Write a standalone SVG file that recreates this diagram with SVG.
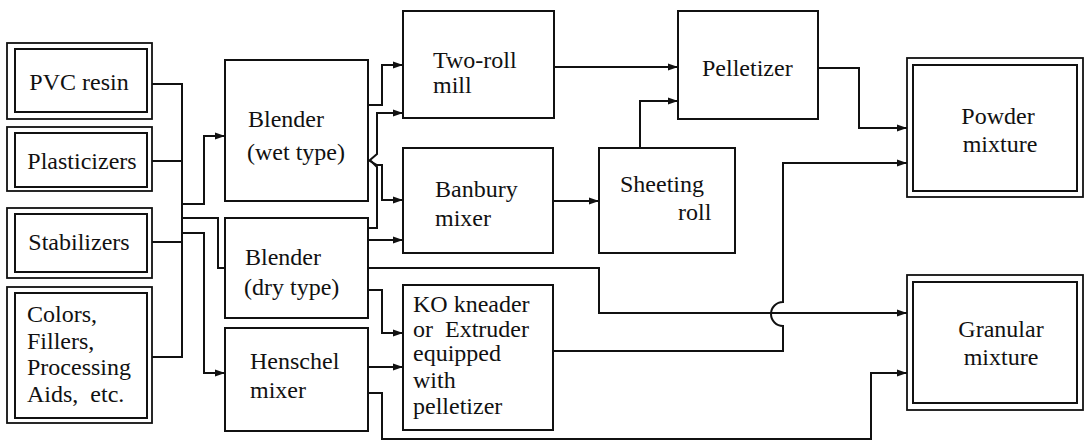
<svg xmlns="http://www.w3.org/2000/svg" width="1087" height="442" viewBox="0 0 1087 442">
<defs>
<marker id="ar" markerUnits="userSpaceOnUse" markerWidth="10" markerHeight="8" refX="10" refY="4" orient="auto">
<path d="M0,0.5 L10,4 L0,7.5 z" fill="#111"/>
</marker>
</defs>
<rect width="1087" height="442" fill="#fff"/>
<g id="nodes" font-family="Liberation Serif" font-size="24" fill="none" stroke="#111" stroke-width="2">
<g id="pvc"><rect stroke-width="1.8" x="7" y="43" width="145" height="76"/><rect x="15" y="49" width="132" height="63"/><text fill="#111" stroke="none" text-anchor="middle" x="79" y="90">PVC resin</text></g>
<g id="plasticizers"><rect stroke-width="1.8" x="7" y="127" width="145" height="64"/><rect x="15" y="133" width="132" height="54"/><text fill="#111" stroke="none" text-anchor="middle" x="82" y="169">Plasticizers</text></g>
<g id="stabilizers"><rect stroke-width="1.8" x="7" y="208" width="145" height="70"/><rect x="15" y="214" width="132" height="58"/><text fill="#111" stroke="none" text-anchor="middle" x="79" y="250">Stabilizers</text></g>
<g id="colors"><rect stroke-width="1.8" x="7" y="287" width="145" height="136"/><rect x="15" y="293" width="132" height="125"/>
<g fill="#111" stroke="none"><text x="27" y="322">Colors,</text><text x="27" y="349">Fillers,</text><text x="27" y="375">Processing</text><text x="27" y="402" xml:space="preserve">Aids,  etc.</text></g></g>
<g id="blender-wet"><rect x="225" y="60" width="143" height="141"/><g fill="#111" stroke="none"><text x="248" y="127">Blender</text><text x="247" y="160">(wet type)</text></g></g>
<g id="blender-dry"><rect x="225" y="218" width="143" height="100"/><g fill="#111" stroke="none"><text x="245" y="265">Blender</text><text x="244" y="295">(dry type)</text></g></g>
<g id="henschel"><rect x="225" y="328" width="143" height="103"/><g fill="#111" stroke="none"><text x="250" y="369">Henschel</text><text x="250" y="398">mixer</text></g></g>
<g id="two-roll"><rect x="403" y="11" width="151" height="107"/><g fill="#111" stroke="none"><text x="433" y="68">Two-roll</text><text x="433" y="93">mill</text></g></g>
<g id="banbury"><rect x="403" y="148" width="150" height="105"/><g fill="#111" stroke="none"><text x="435" y="197">Banbury</text><text x="435" y="226">mixer</text></g></g>
<g id="ko"><rect x="403" y="285" width="150" height="145"/>
<g fill="#111" stroke="none"><text x="413" y="312">KO kneader</text><text x="413" y="337" xml:space="preserve">or  Extruder</text><text x="413" y="361">equipped</text><text x="413" y="388">with</text><text x="413" y="414">pelletizer</text></g></g>
<g id="sheeting"><rect x="599" y="148" width="136" height="105"/><g fill="#111" stroke="none"><text x="620" y="192">Sheeting</text><text x="678" y="220">roll</text></g></g>
<g id="pelletizer"><rect x="678" y="11" width="140" height="108"/><text fill="#111" stroke="none" x="702" y="76">Pelletizer</text></g>
<g id="powder"><rect stroke-width="1.8" x="907" y="58" width="176" height="139"/><rect x="913" y="65" width="164" height="126"/><g fill="#111" stroke="none" text-anchor="middle"><text x="998" y="124">Powder</text><text x="1000" y="152">mixture</text></g></g>
<g id="granular"><rect stroke-width="1.8" x="907" y="275" width="176" height="135"/><rect x="913" y="282" width="164" height="121"/><g fill="#111" stroke="none" text-anchor="middle"><text x="1001" y="337">Granular</text><text x="1001" y="365">mixture</text></g></g>
</g>
<g id="connectors" fill="none" stroke="#111" stroke-width="2">
<path d="M152,84 H182 V357 H152"/>
<path d="M152,161 H182"/>
<path d="M152,242 H182"/>
<path d="M182,204 H204 V136 H225" marker-end="url(#ar)"/>
<path d="M182,218 H218 V268 H225"/>
<path d="M182,233 H204 V373 H225" marker-end="url(#ar)"/>
<path d="M368,105 H382 V65 H403" marker-end="url(#ar)"/>
<path d="M368,160 L377,165 H382 V200 H403" marker-end="url(#ar)"/>
<path d="M368,228 H377 V167 L370,160 L377,154 V113 H403" marker-end="url(#ar)"/>
<path d="M368,240 H403" marker-end="url(#ar)"/>
<path d="M368,290 H382 V333 H403" marker-end="url(#ar)"/>
<path d="M368,268 H599 V313 H907" marker-end="url(#ar)"/>
<path d="M368,367 H403" marker-end="url(#ar)"/>
<path d="M368,393 H382 V439 H871 V373 H907" marker-end="url(#ar)"/>
<path d="M554,67 H678" marker-end="url(#ar)"/>
<path d="M553,201 H599" marker-end="url(#ar)"/>
<path d="M640,148 V101 H678" marker-end="url(#ar)"/>
<path d="M818,68 H859 V128 H907" marker-end="url(#ar)"/>
<path d="M553,351 H783 V326 A12,12 0 0 1 783,302 V163 H907" marker-end="url(#ar)"/>
</g>
</svg>
